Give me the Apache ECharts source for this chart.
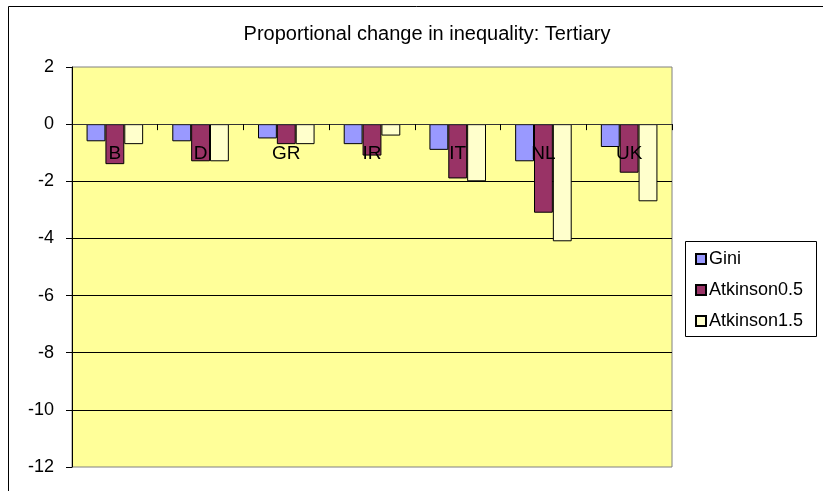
<!DOCTYPE html>
<html>
<head>
<meta charset="utf-8">
<script src="https://cdn.jsdelivr.net/npm/echarts@6/dist/echarts.min.js"></script>
<style>html,body{margin:0;padding:0;background:#fff;}#c{width:823px;height:491px;}</style>
</head>
<body>
<div id="c"></div>
<script>
const categories = ['B', 'D', 'GR', 'IR', 'IT', 'NL', 'UK'];
const gini = [-0.6, -0.6, -0.5, -0.7, -0.9, -1.3, -0.8];
const atkinson05 = [-1.4, -1.3, -0.7, -1.1, -1.9, -3.1, -1.7];
const atkinson15 = [-0.7, -1.3, -0.7, -0.4, -2.0, -4.1, -2.7];
const labelAnchors = [0, 0, 0, 0, 0, 0, 0];
const yTicks = { min: -12, max: 2, interval: 2 };

const FONT = 'Liberation Sans';
const chart = echarts.init(document.getElementById('c'), null, { renderer: 'canvas' });
const barStyle = (color) => ({ color: color, borderColor: '#000', borderWidth: 1 });
chart.setOption({
  animation: false,
  backgroundColor: '#fff',
  textStyle: { fontFamily: FONT, color: '#000' },
  title: {
    text: 'Proportional change in inequality: Tertiary',
    left: 422, top: 19, textAlign: 'center',
    textStyle: { fontFamily: FONT, fontSize: 20, fontWeight: 'normal', color: '#000' }
  },
  graphic: [
    { type: 'line', shape: { x1: 8.5, y1: 6.5, x2: 830, y2: 6.5 }, style: { stroke: '#000', lineWidth: 1 } },
    { type: 'line', shape: { x1: 8.5, y1: 6.5, x2: 8.5, y2: 500 }, style: { stroke: '#000', lineWidth: 1 } },
    { type: 'rect', shape: { x: 685.5, y: 241.5, width: 131, height: 95 }, style: { fill: '#fff', stroke: '#000', lineWidth: 1 }, z: 0 }
  ],
  legend: {
    orient: 'vertical', left: 690, top: 245, itemWidth: 10, itemHeight: 10, itemGap: 13,
    icon: 'rect', z: 5,
    textStyle: { fontFamily: FONT, fontSize: 18, color: '#000', padding: [0, 0, 0, -2] },
    data: ['Gini', 'Atkinson0.5', 'Atkinson1.5']
  },
  grid: {
    left: 72, top: 67, width: 600, height: 400, show: true, containLabel: false,
    outerBoundsMode: 'none',
    backgroundColor: '#FFFF99', borderColor: '#808080', borderWidth: 1
  },
  xAxis: {
    type: 'category', data: categories, z: 10,
    axisLine: { show: true, onZero: true, lineStyle: { color: '#333', width: 1 } },
    axisTick: { show: true, length: 6, lineStyle: { color: '#000' } },
    axisLabel: { show: false },
    splitLine: { show: false }
  },
  yAxis: {
    type: 'value', min: yTicks.min, max: yTicks.max, interval: yTicks.interval,
    axisLine: { show: true, lineStyle: { color: '#000', width: 1 } },
    axisTick: { show: true, length: 6, lineStyle: { color: '#000' } },
    axisLabel: { fontFamily: FONT, fontSize: 18, color: '#000', margin: 18 },
    splitLine: { show: true, showMinLine: false, showMaxLine: false, lineStyle: { color: '#000', width: 1 } }
  },
  series: [
    { name: 'Gini', type: 'bar', data: gini, barGap: '0%', barCategoryGap: '34%', itemStyle: barStyle('#9999FF') },
    { name: 'Atkinson0.5', type: 'bar', data: atkinson05, barGap: '0%', barCategoryGap: '34%', itemStyle: barStyle('#993366') },
    { name: 'Atkinson1.5', type: 'bar', data: atkinson15, barGap: '0%', barCategoryGap: '34%', itemStyle: barStyle('#FFFFCC') },
    {
      name: 'categoryLabels', type: 'scatter', data: labelAnchors, symbolSize: 1, z: 20,
      silent: true, tooltip: { show: false },
      itemStyle: { color: 'rgba(0,0,0,0)', opacity: 1 },
      emphasis: { disabled: true },
      label: {
        show: true, position: 'bottom', distance: 20, formatter: '{b}', opacity: 1,
        fontFamily: FONT, fontSize: 19, fontWeight: 'normal', color: '#000'
      }
    }
  ]
});
</script>
</body>
</html>
